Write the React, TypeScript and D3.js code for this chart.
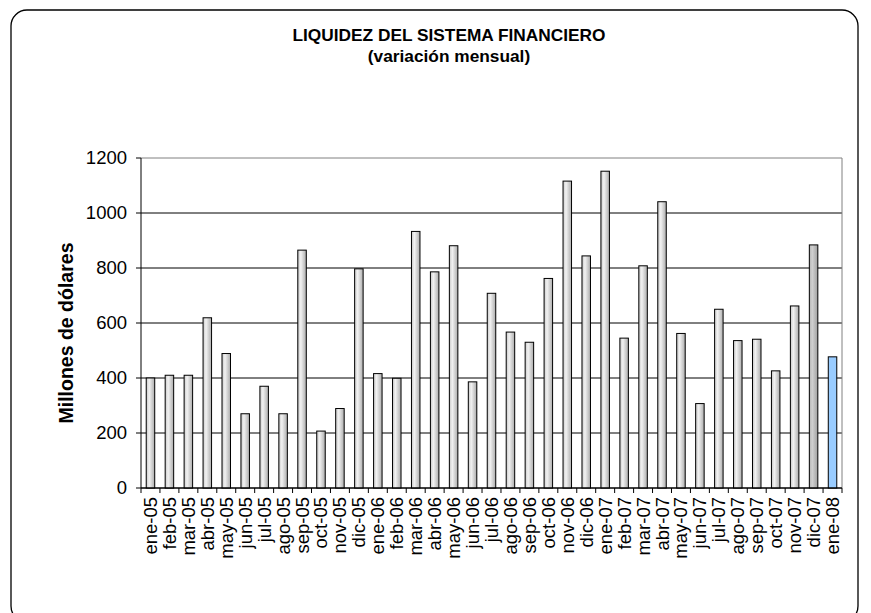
import React from "react";
import * as d3 from "d3";

const categories = [
  "ene-05","feb-05","mar-05","abr-05","may-05","jun-05","jul-05","ago-05","sep-05","oct-05","nov-05","dic-05",
  "ene-06","feb-06","mar-06","abr-06","may-06","jun-06","jul-06","ago-06","sep-06","oct-06","nov-06","dic-06",
  "ene-07","feb-07","mar-07","abr-07","may-07","jun-07","jul-07","ago-07","sep-07","oct-07","nov-07","dic-07",
  "ene-08",
];
const values = [
  400, 410, 410, 619, 489, 270, 370, 270, 865, 207, 289, 797,
  416, 399, 933, 786, 881, 386, 708, 567, 530, 762, 1116, 844,
  1152, 545, 808, 1041, 562, 307, 650, 536, 541, 426, 662, 884,
  477,
];
const yTicks = [0, 200, 400, 600, 800, 1000, 1200];

const FONT = "'Liberation Sans', Arial, sans-serif";

export default function App() {
  const W = 871, H = 613;
  const left = 141, right = 842, top = 158, bottom = 488;
  const x = d3.scaleBand<string>().domain(categories).range([left, right]).padding(0);
  const y = d3.scaleLinear().domain([0, 1200]).range([bottom, top]);
  const bw = x.bandwidth();
  const barW = 8.5;

  return (
    <svg width={W} height={H} style={{ position: "absolute", left: 0, top: 0 }}>
      <defs>
        <linearGradient id="gGray" x1="0" x2="1" y1="0" y2="0">
          <stop offset="0%" stopColor="#c8c8c8" />
          <stop offset="35%" stopColor="#f2f2f2" />
          <stop offset="100%" stopColor="#acacac" />
        </linearGradient>
        <linearGradient id="gDark" x1="0" x2="1" y1="0" y2="0">
          <stop offset="0%" stopColor="#b4b4b4" />
          <stop offset="35%" stopColor="#d0d0d0" />
          <stop offset="100%" stopColor="#a0a0a0" />
        </linearGradient>
      </defs>
      <rect x={0} y={0} width={W} height={H} fill="#fff" />
      <rect x={11} y={10} width={847} height={612} rx={16} ry={16} fill="#fff" stroke="#000" strokeWidth={1.3} />

      <text x={449} y={41} textAnchor="middle" fontFamily={FONT} fontWeight="bold" fontSize={17.3}>
        LIQUIDEZ DEL SISTEMA FINANCIERO
      </text>
      <text x={449} y={62} textAnchor="middle" fontFamily={FONT} fontWeight="bold" fontSize={17.3}>
        (variación mensual)
      </text>

      {yTicks.map((t) => (
        <line key={"g" + t} x1={left} x2={right} y1={y(t)} y2={y(t)}
          stroke={t === 1200 ? "#808080" : "#000"} strokeWidth={1} />
      ))}
      <line x1={right} x2={right} y1={top} y2={bottom} stroke="#808080" strokeWidth={1} />

      {values.map((v, i) => {
        const c = categories[i];
        const cx = (x(c) as number) + bw / 2;
        let fill = "url(#gGray)";
        if (i === values.length - 1) fill = "#99ccff";
        else if (i === values.length - 2) fill = "url(#gDark)";
        return (
          <rect key={c} x={cx - barW / 2} y={y(v)} width={barW} height={bottom - y(v)}
            fill={fill} stroke="#000" strokeWidth={1} />
        );
      })}

      <line x1={left} x2={left} y1={top} y2={bottom} stroke="#000" strokeWidth={1} />
      <line x1={left} x2={right} y1={bottom} y2={bottom} stroke="#000" strokeWidth={1} />
      {yTicks.map((t) => (
        <g key={"yt" + t}>
          <line x1={left - 5} x2={left} y1={y(t)} y2={y(t)} stroke="#000" />
          <text x={left - 14} y={y(t)} dy="0.35em" textAnchor="end" fontFamily={FONT} fontSize={18.5}>
            {t}
          </text>
        </g>
      ))}
      {categories.map((c) => (
        <line key={"xt" + c} x1={x(c) as number} x2={x(c) as number} y1={bottom} y2={bottom + 5} stroke="#000" />
      ))}
      <line x1={right} x2={right} y1={bottom} y2={bottom + 5} stroke="#000" />
      {categories.map((c) => {
        const cx = (x(c) as number) + bw / 2;
        return (
          <text key={"xl" + c} transform={`translate(${cx + 6.5},${497}) rotate(-90)`} textAnchor="end"
            fontFamily={FONT} fontSize={18.5}>
            {c}
          </text>
        );
      })}

      <text transform={`translate(73,${333}) rotate(-90)`} textAnchor="middle" fontFamily={FONT}
        fontWeight="bold" fontSize={19.5}>
        Millones de dólares
      </text>
    </svg>
  );
}
